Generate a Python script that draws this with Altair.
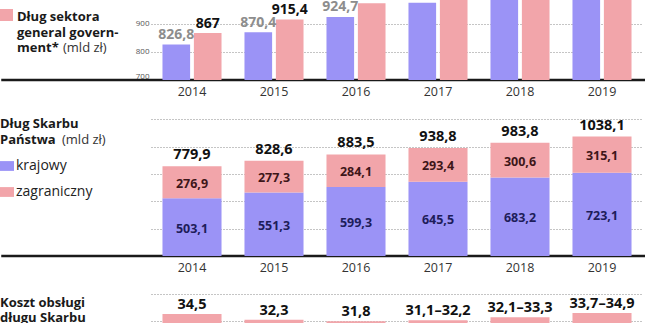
import altair as alt
import pandas as pd

# ---------------- data ----------------
years = ["2014", "2015", "2016", "2017", "2018", "2019"]

# top panel: general government debt (pink) vs public debt (purple), bn zł
pdp = [826.8, 870.4, 924.7, 975.0, 1010.0, 1050.0]
gg = [867.0, 915.4, 973.0, 1015.0, 1060.0, 1100.0]
top_ticks = [700, 800, 900]

# middle panel: State Treasury debt, bn zł
krajowy = [503.1, 551.3, 599.3, 645.5, 683.2, 723.1]
zagraniczny = [276.9, 277.3, 284.1, 293.4, 300.6, 315.1]
totals = [779.9, 828.6, 883.5, 938.8, 983.8, 1038.1]
mid_ticks = [238, 476, 714, 952, 1190]

# bottom panel: debt service cost, bn zł
cost_lo = [34.5, 32.3, 31.8, 31.1, 32.1, 33.7]
cost_hi = [34.5, 32.3, 31.8, 32.2, 33.3, 34.9]
cost_ticks = [12, 22, 32, 42]

legend_labels = ["krajowy", "zagraniczny"]

PURPLE = "#9b93f6"
PINK = "#f2a5aa"
FONT = "Open Sans"
W = 492


def pl(v):
    s = f"{v:.1f}".replace(".", ",")
    return s[:-2] if s.endswith(",0") else s


top_df = pd.DataFrame({
    "year": years * 2,
    "series": ["pdp"] * 6 + ["gg"] * 6,
    "value": pdp + gg,
})
top_df["label"] = top_df["value"].map(pl)

mid_df = pd.DataFrame({
    "year": years * 2,
    "part": [legend_labels[0]] * 6 + [legend_labels[1]] * 6,
    "value": krajowy + zagraniczny,
})
mid_df["label"] = mid_df["value"].map(pl)

tot_df = pd.DataFrame({"year": years, "total": totals})
tot_df["label"] = tot_df["total"].map(pl)

cost_df = pd.DataFrame({"year": years, "lo": cost_lo, "hi": cost_hi})
cost_df["label"] = [pl(a) if a == b else f"{pl(a)}–{pl(b)}" for a, b in zip(cost_lo, cost_hi)]

xscale = alt.Scale(domain=years, paddingInner=0.28, paddingOuter=0.14)
xaxis = alt.Axis(title=None, labelAngle=0, ticks=False, domain=False, labelPadding=5,
                 labelFontSize=12.5, labelColor="#333", labelFont=FONT)


def X(axis=xaxis):
    return alt.X("year:N", sort=years, scale=xscale, axis=axis)


def txt(s, x, y, bold=True, size=13, color="#1a1a1a"):
    return alt.Chart(pd.DataFrame({"t": [s]})).mark_text(
        align="left", baseline="alphabetic", font=FONT,
        fontWeight="bold" if bold else "normal", fontSize=size, color=color
    ).encode(x=alt.value(x), y=alt.value(y), text="t:N")


grid_style = dict(grid=True, gridDash=[1, 2], gridColor="#8a8a8a", gridWidth=1,
                  ticks=False, domain=False, title=None)

# ---------------- top panel ----------------
ytop_scale = alt.Scale(domain=[700, 985], clamp=True, nice=False, zero=False)
ytop_axis = alt.Axis(values=top_ticks, labelFontSize=8, labelColor="#555", labelPadding=2,
                     labelFlush=True, labelFont=FONT, **grid_style)
xoff = alt.XOffset("series:N", sort=["pdp", "gg"],
                   scale=alt.Scale(domain=["pdp", "gg"], paddingInner=0.12, paddingOuter=0))

top_rule = alt.Chart(pd.DataFrame({"v": [700]})).mark_rule(color="#1a1a1a", strokeWidth=2.5).encode(
    y=alt.Y("v:Q", scale=ytop_scale, axis=ytop_axis), x=alt.value(-149.75), x2=alt.value(W + 2))
top_bars = alt.Chart(top_df).mark_bar().encode(
    x=X(), xOffset=xoff,
    y=alt.Y("value:Q", scale=ytop_scale, axis=ytop_axis), y2=alt.datum(700),
    color=alt.Color("series:N", scale=alt.Scale(domain=["pdp", "gg"], range=[PURPLE, PINK]), legend=None))
top_labels = alt.Chart(top_df).transform_filter("datum.value < 940").mark_text(
    font=FONT, fontWeight="bold", fontSize=14, baseline="alphabetic", dy=-5.5).encode(
    x=X(), xOffset=xoff,
    y=alt.Y("value:Q", scale=ytop_scale, axis=ytop_axis), text="label:N",
    color=alt.when(alt.datum.series == "pdp").then(alt.value("#8d8d8d")).otherwise(alt.value("#111")))
top_icon = alt.Chart(pd.DataFrame({"c": [0]})).mark_rect(color=PINK).encode(
    x=alt.value(-151), x2=alt.value(-138), y=alt.value(9), y2=alt.value(21))

top = alt.layer(
    top_rule, top_bars, top_labels, top_icon,
    txt("Dług sektora", -134, 20.5),
    txt("general govern-", -134, 36.5),
    txt("ment*", -134, 51.5),
    txt("(mld zł)", -88, 51.5, bold=False, color="#333"),
).properties(width=W, height=80)

# ---------------- middle panel ----------------
ymid_scale = alt.Scale(domain=[0, 1200], nice=False)
ymid_axis = alt.Axis(values=mid_ticks, labels=False, **grid_style)

mid_rule = alt.Chart(pd.DataFrame({"v": [0]})).mark_rule(color="#1a1a1a", strokeWidth=2.5).encode(
    y=alt.Y("v:Q", scale=ymid_scale, axis=ymid_axis), x=alt.value(-149.75), x2=alt.value(W + 2))
mid_bars = alt.Chart(mid_df).mark_bar().encode(
    x=X(),
    y=alt.Y("value:Q", stack="zero", scale=ymid_scale, axis=ymid_axis),
    color=alt.Color("part:N", scale=alt.Scale(domain=legend_labels, range=[PURPLE, PINK]),
                    legend=alt.Legend(orient="none", legendX=-151, legendY=41, direction="vertical",
                                      title=None, symbolType="M-1,-0.7L1,-0.7L1,0.7L-1,0.7Z",
                                      symbolSize=196, symbolStrokeWidth=0, symbolOpacity=1,
                                      labelFont=FONT, labelFontSize=14, labelColor="#222",
                                      rowPadding=12, labelOffset=2, padding=0)),
    order=alt.Order("part:N", sort="ascending"))
mid_seg = alt.Chart(mid_df).transform_stack(
    stack="value", groupby=["year"], as_=["v0", "v1"],
    sort=[alt.SortField("part", order="ascending")]
).transform_calculate(mid="(datum.v0 + datum.v1) / 2").mark_text(
    font=FONT, fontWeight="bold", fontSize=12.5, baseline="middle", dy=1.5).encode(
    x=X(), y=alt.Y("mid:Q", scale=ymid_scale, axis=ymid_axis), text="label:N",
    color=alt.when(alt.datum.part == "krajowy").then(alt.value("#1e1d5a")).otherwise(alt.value("#3e1619")))
mid_tot = alt.Chart(tot_df).mark_text(
    font=FONT, fontWeight="bold", fontSize=14.5, baseline="alphabetic", dy=-7, color="#111").encode(
    x=X(), y=alt.Y("total:Q", scale=ymid_scale, axis=ymid_axis), text="label:N")

mid = alt.layer(
    mid_rule, mid_bars, mid_seg, mid_tot,
    txt("Dług Skarbu", -151, 10),
    txt("Państwa", -151, 26),
    txt("(mld zł)", -89, 26, bold=False, color="#333"),
).properties(width=W, height=138)

# ---------------- bottom panel ----------------
ybot_scale = alt.Scale(domain=[0, 42], nice=False)
ybot_axis = alt.Axis(values=cost_ticks, labels=False, **grid_style)

bot_bars = alt.Chart(cost_df).mark_bar(color=PINK).encode(
    x=X(None), y=alt.Y("hi:Q", scale=ybot_scale, axis=ybot_axis))
bot_labels = alt.Chart(cost_df).mark_text(
    font=FONT, fontWeight="bold", fontSize=14.5, baseline="alphabetic", dy=-5, color="#111").encode(
    x=X(None), y=alt.Y("hi:Q", scale=ybot_scale, axis=ybot_axis), text="label:N")

bot = alt.layer(
    bot_bars, bot_labels,
    txt("Koszt obsługi", -151, 13),
    txt("długu Skarbu", -151, 28),
).properties(width=W, height=112)

chart = alt.vconcat(top, mid, bot, spacing=38, bounds="flush").resolve_scale(
    color="independent", y="independent"
).properties(padding=0, background="white").configure_view(stroke=None)

chart.save("out.html", embed_options={"renderer": "svg", "actions": False})
